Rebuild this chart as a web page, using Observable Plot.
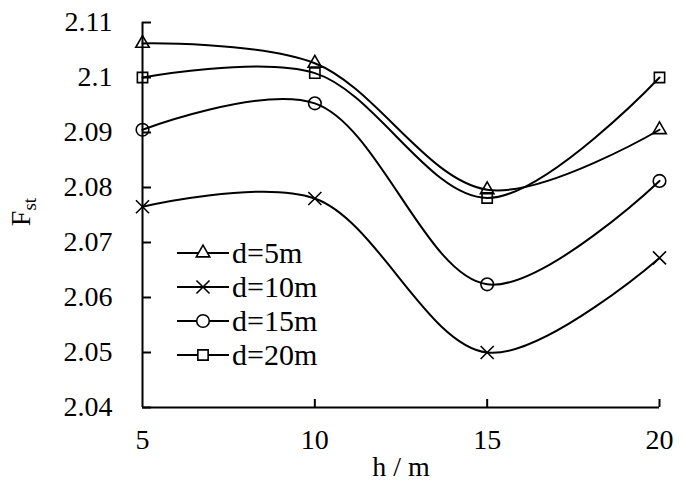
<!DOCTYPE html>
<html><head><meta charset="utf-8">
<script src="https://cdn.jsdelivr.net/npm/d3@7"></script>
<script src="https://cdn.jsdelivr.net/npm/@observablehq/plot@0.6"></script>
<style>
body{margin:0;background:#fff;}
#wrap{position:relative;width:685px;height:493px;font-family:"Liberation Serif","Times New Roman",serif;}
#legend{position:absolute;left:176px;top:236px;font-size:30px;line-height:34px;color:#000;}
#legend .row{display:flex;align-items:center;height:34px;}
#legend svg{display:block;}
</style></head><body><div id="wrap"><div id="legend"></div></div>
<script>
const hValues = [5, 10, 15, 20];
const seriesNames = ["d=5m", "d=10m", "d=15m", "d=20m"];
const d5  = [2.1062, 2.1026, 2.0796, 2.0905];
const d10 = [2.0765, 2.0780, 2.0500, 2.0672];
const d15 = [2.0905, 2.0953, 2.0624, 2.0812];
const d20 = [2.1000, 2.1008, 2.0781, 2.1000];
const symbolNames = ["triangle", "times", "circle", "square"];
const symbolRadius = [5, 6, 6.3, 5.8];
const yTicks = [2.04, 2.05, 2.06, 2.07, 2.08, 2.09, 2.1, 2.11];
const xTicks = [5, 10, 15, 20];

const allSeries = [d5, d10, d15, d20];
const data = [];
allSeries.forEach((vals, i) => vals.forEach((v, j) => data.push({h: hValues[j], F: v, series: seriesNames[i], rad: symbolRadius[i]})));

const font = '"Liberation Serif","Times New Roman",serif';
const chart = Plot.plot({
  width: 685, height: 493,
  marginLeft: 142, marginRight: 26, marginTop: 22, marginBottom: 86,
  style: {fontFamily: font, fontSize: "28px", color: "#000", background: "#fff"},
  x: {domain: [5, 20], label: null},
  y: {domain: [2.04, 2.11], label: null},
  r: {type: "identity"},
  symbol: {domain: seriesNames, range: symbolNames},
  marks: [
    Plot.axisY({ticks: yTicks, tickSize: 0, tickPadding: 30, tickFormat: d => String(d), fontSize: 28}),
    Plot.axisY({ticks: yTicks, tickSize: -9, text: null, strokeWidth: 2}),
    Plot.axisX({ticks: xTicks, tickSize: 0, tickPadding: 22, tickFormat: d => String(d), fontSize: 28}),
    Plot.axisX({ticks: xTicks.slice(1), tickSize: -8, text: null, strokeWidth: 2}),
    Plot.ruleX([5], {stroke: "black", strokeWidth: 2}),
    Plot.ruleY([2.04], {stroke: "black", strokeWidth: 2}),
    Plot.line(data, {x: "h", y: "F", z: "series", curve: "catmull-rom", stroke: "black", strokeWidth: 2}),
    Plot.dot(data, {x: "h", y: "F", symbol: "series", r: "rad", stroke: "black", fill: "none", strokeWidth: 1.6})
  ]
});
document.getElementById("wrap").prepend(chart);

const svg = d3.select(chart);
svg.append("text")
  .attr("x", 401).attr("y", 476)
  .attr("text-anchor", "middle")
  .attr("font-family", font).attr("font-size", 28).attr("fill", "#000")
  .text("h / m");
const yl = svg.append("text")
  .attr("transform", "translate(30,212) rotate(-90)")
  .attr("text-anchor", "middle")
  .attr("font-family", font).attr("font-size", 28).attr("fill", "#000");
yl.append("tspan").text("F");
yl.append("tspan").attr("dy", "0.3em").attr("font-size", 19).text("st");

// legend
const symMap = {triangle: d3.symbolTriangle, times: d3.symbolTimes, circle: d3.symbolCircle, square: d3.symbolSquare};
const legend = d3.select("#legend");
seriesNames.forEach((name, i) => {
  const row = legend.append("div").attr("class", "row");
  const s = row.append("svg").attr("width", 56).attr("height", 34);
  s.append("line").attr("x1", 1).attr("x2", 53).attr("y1", 17).attr("y2", 17).attr("stroke", "black").attr("stroke-width", 2);
  const rr = symbolRadius[i];
  s.append("path")
    .attr("transform", "translate(27,17)")
    .attr("d", d3.symbol().type(symMap[symbolNames[i]]).size(Math.PI * rr * rr)())
    .attr("fill", symbolNames[i] === "times" ? "none" : "#fff")
    .attr("stroke", "black").attr("stroke-width", 1.6);
  row.append("span").text(name);
});
</script>
</body></html>
